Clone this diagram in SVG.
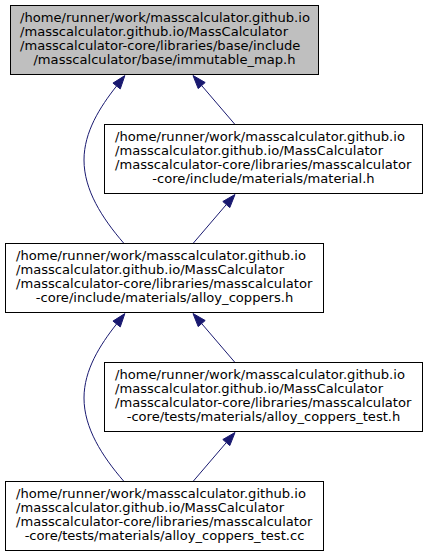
<svg xmlns="http://www.w3.org/2000/svg" width="428" height="556" viewBox="0 0 428 556">
<style>
.n rect{fill:#ffffff;stroke:#000000;stroke-width:1}
.n.root rect{fill:#bfbfbf}
.n text{font-family:"DejaVu Sans",sans-serif;font-size:13.1px;fill:#000000}
.n text.c{text-anchor:middle}
.e path{fill:none;stroke:#191970;stroke-width:1}
.e polygon{fill:#191970;stroke:#191970;stroke-width:1}
</style>
<rect x="0" y="0" width="428" height="556" fill="#ffffff"/>
<g id="connectors" class="e">
<path d="M124,243.5 C102,218 84,190 84,160 C84,132 100,107 116.6,86"/>
<polygon points="124.85,75.6 120.25,88.9 112.95,83.1"/>
<path d="M235,124.5 L201.7,85.6"/>
<polygon points="193,75.5 205.2,82.5 198.2,88.6"/>
<path d="M193,243.5 L226.3,204.6"/>
<polygon points="235,194.5 229.8,207.6 222.8,201.5"/>
<path d="M124,481.5 C102,456 84,428 84,398 C84,370 100,345 116.6,324"/>
<polygon points="124.85,313.6 120.25,326.9 112.95,321.1"/>
<path d="M235,362.5 L201.7,323.6"/>
<polygon points="193,313.5 205.2,320.5 198.2,326.6"/>
<path d="M193,481.5 L226.3,442.6"/>
<polygon points="235,432.5 229.8,445.6 222.8,439.5"/>
</g>
<g id="node1" class="n root">
<rect x="10.5" y="5.5" width="308" height="69"/>
<text x="20" y="21.5">/home/runner/work/masscalculator.github.io</text>
<text x="20" y="35.5">/masscalculator.github.io/MassCalculator</text>
<text x="20" y="49.5">/masscalculator-core/libraries/base/include</text>
<text class="c" x="164.5" y="63.5">/masscalculator/base/immutable_map.h</text>
</g>
<g id="node2" class="n">
<rect x="104.5" y="124.5" width="318" height="69"/>
<text x="115" y="140.5">/home/runner/work/masscalculator.github.io</text>
<text x="115" y="154.5">/masscalculator.github.io/MassCalculator</text>
<text x="115" y="168.5">/masscalculator-core/libraries/masscalculator</text>
<text class="c" x="263.5" y="182.5">-core/include/materials/material.h</text>
</g>
<g id="node3" class="n">
<rect x="5.5" y="243.5" width="318" height="69"/>
<text x="16" y="259.5">/home/runner/work/masscalculator.github.io</text>
<text x="16" y="273.5">/masscalculator.github.io/MassCalculator</text>
<text x="16" y="287.5">/masscalculator-core/libraries/masscalculator</text>
<text class="c" x="164.5" y="301.5">-core/include/materials/alloy_coppers.h</text>
</g>
<g id="node4" class="n">
<rect x="104.5" y="362.5" width="318" height="69"/>
<text x="115" y="378.5">/home/runner/work/masscalculator.github.io</text>
<text x="115" y="392.5">/masscalculator.github.io/MassCalculator</text>
<text x="115" y="406.5">/masscalculator-core/libraries/masscalculator</text>
<text class="c" x="263.5" y="420.5">-core/tests/materials/alloy_coppers_test.h</text>
</g>
<g id="node5" class="n">
<rect x="5.5" y="481.5" width="318" height="69"/>
<text x="16" y="497.5">/home/runner/work/masscalculator.github.io</text>
<text x="16" y="511.5">/masscalculator.github.io/MassCalculator</text>
<text x="16" y="525.5">/masscalculator-core/libraries/masscalculator</text>
<text class="c" x="164.5" y="539.5">-core/tests/materials/alloy_coppers_test.cc</text>
</g>
</svg>
